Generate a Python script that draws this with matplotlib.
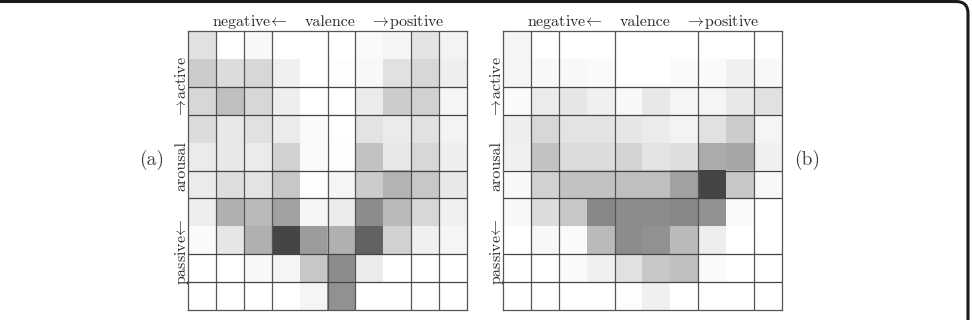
import matplotlib as mpl
mpl.use('Agg')
import matplotlib.pyplot as plt
import numpy as np
from matplotlib.patches import FancyBboxPatch

# shading of each cell (0 = white, 100 = black), rows top -> bottom
panel_a = [
    [12, 0, 3, 0, 0, 0, 2, 4, 11, 5],
    [20, 14, 16, 6, 0, 1, 3, 12, 16, 7],
    [16, 25, 16, 7, 0, 0, 8, 20, 18, 4],
    [14, 9, 12, 8, 2, 0, 11, 8, 12, 5],
    [8, 9, 8, 18, 2, 1, 24, 9, 16, 7],
    [8, 13, 11, 22, 1, 4, 20, 30, 22, 9],
    [7, 31, 27, 37, 4, 8, 45, 27, 16, 6],
    [2, 10, 31, 73, 39, 31, 61, 18, 6, 4],
    [0, 0, 3, 4, 22, 45, 8, 0, 0, 0],
    [0, 0, 0, 0, 4, 43, 0, 0, 0, 0],
]
panel_b = [
    [4, 0, 0, 0, 0, 0, 0, 0, 0, 0],
    [4, 3, 3, 2, 0, 0, 2, 2, 6, 3],
    [2, 8, 10, 6, 3, 9, 4, 4, 9, 12],
    [7, 16, 11, 11, 10, 8, 5, 12, 20, 4],
    [6, 24, 14, 14, 17, 11, 13, 33, 35, 6],
    [3, 18, 24, 24, 25, 25, 37, 73, 22, 3],
    [3, 14, 22, 47, 45, 45, 47, 43, 2, 0],
    [0, 3, 2, 27, 45, 43, 27, 7, 0, 0],
    [0, 0, 2, 6, 12, 22, 25, 2, 0, 0],
    [0, 0, 0, 0, 1, 6, 0, 0, 0, 0],
]
# grid line positions (cell boundaries)
rows_lines = [2, 3, 5, 6, 8, 9]
cols_a = [1, 2, 3, 5, 6, 8, 9]
cols_b = [1, 2, 4, 7, 9]
panel_tags = ["(a)", "(b)"]

plt.rcParams['mathtext.fontset'] = 'cm'
serif = 'cmr10'
fsize = 11.5

fig = plt.figure(figsize=(9.72, 3.2), dpi=100)

# frame of the figure (top and right edges, rounded corner)
bg = fig.add_axes([0, 0, 1, 1])
bg.set_xlim(0, 972)
bg.set_ylim(320, 0)
bg.axis('off')
bg.add_patch(FancyBboxPatch((-60, 1.5), 1028, 400,
                            boxstyle='round,pad=0,rounding_size=12',
                            fc='none', ec='#1a1a1a', lw=2.2))

larr = r'negative$\!\leftarrow$'
rarr = r'$\rightarrow\!$positive'


def draw_panel(left, data, cols, tag, tag_x):
    ax = fig.add_axes([left / 972, 10 / 320, 279 / 972, 279 / 320])
    vals = np.array(data) / 100.0
    ax.imshow(vals, cmap='gray_r', vmin=0, vmax=1, extent=[0, 10, 10, 0],
              interpolation='nearest', aspect='auto')
    for c in cols:
        ax.axvline(c, color='#555555', lw=0.9)
    for r in rows_lines:
        ax.axhline(r, color='#444444', lw=0.9)
    for s in ax.spines.values():
        s.set_color('#555555')
        s.set_linewidth(0.9)
    ax.set_xticks([])
    ax.set_yticks([])
    ax.set_xlim(0, 10)
    ax.set_ylim(10, 0)
    # valence labels on top
    kw = dict(transform=ax.transAxes, ha='center', va='center',
              fontsize=fsize, family=serif, color='#2a2a2a')
    ax.text(0.222, 1.032, larr, **kw)
    ax.text(0.509, 1.032, 'valence', **kw)
    ax.text(0.785, 1.032, rarr, **kw)
    # arousal labels on the left
    kw2 = dict(kw, rotation=90)
    ax.text(-0.022, 0.80, r'$\rightarrow\!$active', **kw2)
    ax.text(-0.022, 0.516, 'arousal', **kw2)
    ax.text(-0.022, 0.21, r'passive$\!\leftarrow$', **kw2)
    fig.text(tag_x / 972, 1 - 160 / 320, tag, ha='center', va='center',
             fontsize=14, family=serif, color='#444444')
    return ax


draw_panel(188, panel_a, cols_a, panel_tags[0], 152)
draw_panel(503, panel_b, cols_b, panel_tags[1], 807)

plt.savefig('out.png', dpi=100)
